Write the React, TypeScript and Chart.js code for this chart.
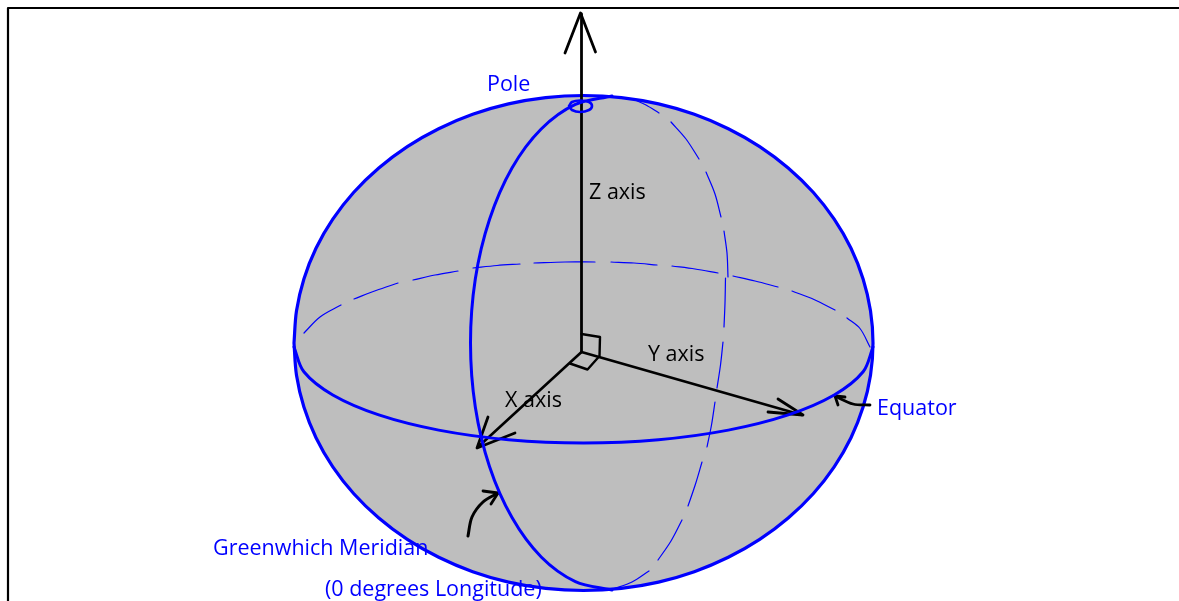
import React, { useEffect, useRef } from "react";
import { Chart, registerables } from "chart.js";

Chart.register(...registerables);

type N = number | null;

const BLUE = "#0000ff";
const BLACK = "#000000";
const GREY = "#bebebe";

const frameX: N[] = [8, 8, 1179];
const frameY: N[] = [601, 8, 8];

const sphereX: N[] = [294, 296.5, 303.9, 316, 332.8, 353.8, 378.8, 407.3, 438.7, 472.7, 508.5, 545.7, 583.5, 621.3, 658.5, 694.3, 728.3, 759.7, 788.2, 813.2, 834.2, 851, 863.1, 870.5, 873, 870.5, 863.1, 851, 834.2, 813.2, 788.2, 759.7, 728.3, 694.3, 658.5, 621.3, 583.5, 545.7, 508.5, 472.7, 438.7, 407.3, 378.8, 353.8, 332.8, 316, 303.9, 296.5, 294];
const sphereY: N[] = [343, 310.7, 278.9, 248.3, 219.2, 192.3, 168, 146.6, 128.7, 114.3, 103.9, 97.6, 95.5, 97.6, 103.9, 114.3, 128.7, 146.6, 168, 192.3, 219.2, 248.3, 278.9, 310.7, 343, 375.3, 407.1, 437.7, 466.8, 493.7, 518, 539.4, 557.3, 571.7, 582.1, 588.4, 590.5, 588.4, 582.1, 571.7, 557.3, 539.4, 518, 493.7, 466.8, 437.7, 407.1, 375.3, 343];

const equatorFrontX: N[] = [294, 303.9, 332.8, 378.8, 438.7, 508.5, 583.5, 658.5, 728.3, 788.2, 834.2, 863.1, 873];
const equatorFrontY: N[] = [347, 371.8, 395, 414.9, 430.1, 439.7, 443, 439.7, 430.1, 414.9, 395, 371.8, 347];

const equatorBackX: N[] = [304, 320, 341, null, 354, 376, 398, null, 413, 435, 458, null, 473, 497, 520, null, 534, 565, 595, null, 611, 634, 657, null, 672, 695, 718, null, 733, 755, 778, null, 792, 814, 835, null, 847, 860, 870];
const equatorBackY: N[] = [333, 317, 305, null, 299, 290.5, 283, null, 280, 275, 271, null, 268, 265.5, 264, null, 263, 262, 262, null, 262, 263, 265, null, 266, 269, 273, null, 276, 281, 287, null, 291, 299.5, 310, null, 318, 328.5, 347];

const meridianFrontX: N[] = [612, 575.4, 541.2, 512, 489.5, 475.3, 470.5, 475.3, 489.5, 512, 541.2, 575.4, 612];
const meridianFrontY: N[] = [96, 104.4, 129, 168, 219.5, 279, 343, 407, 466.5, 517.6, 557, 581.6, 590];

const meridianBackX: N[] = [633, 646, 659, null, 671, 686, 699, null, 706, 715, 721, null, 724, 727, 728, null, 725.5, 725, 724, null, 723, 720.5, 717, null, 715, 711.5, 707, null, 702, 695.5, 688, null, 682, 671, 658, null, 649, 632, 613];
const meridianBackY: N[] = [99, 105, 113, null, 122, 139, 159, null, 172, 194, 217, null, 231, 253, 277, null, 278, 303, 327, null, 342, 365, 388, null, 402, 425, 447, null, 462, 484, 506, null, 520, 541, 560, null, 571, 582, 589];

const poleX: N[] = [569, 572, 580, 589, 592, 589, 580, 572, 569];
const poleY: N[] = [106, 102, 100.5, 102, 106, 110, 112, 110, 106];

const zAxisX: N[] = [581.5, 581.5];
const zAxisY: N[] = [352, 14];
const zHeadX: N[] = [565, 580.5, 595.5];
const zHeadY: N[] = [53, 13, 52];

const xAxisX: N[] = [581.5, 478];
const xAxisY: N[] = [352, 447];
const xHeadX: N[] = [488, 477, 515];
const xHeadY: N[] = [417, 448, 433];

const yAxisX: N[] = [581.5, 802];
const yAxisY: N[] = [352, 415];
const yHeadX: N[] = [778, 803, 768];
const yHeadY: N[] = [399, 415, 412];

const rightAngleX: N[] = [581.5, 600, 599.5, 587.5, 570];
const rightAngleY: N[] = [334, 337, 356, 369.5, 363.5];

const greenwichArrowX: N[] = [468, 472, 483, 498];
const greenwichArrowY: N[] = [536, 517, 502, 493];
const greenwichHeadX: N[] = [483, 498, 491];
const greenwichHeadY: N[] = [491, 493, 504];

const equatorArrowX: N[] = [870, 853, 835];
const equatorArrowY: N[] = [405, 404, 396];
const equatorHeadX: N[] = [845, 835, 838];
const equatorHeadY: N[] = [397, 396, 405];

const labelTexts = ["Pole", "Z axis", "Y axis", "X axis", "Equator", "Greenwhich Meridian", "(0 degrees Longitude)"];
const labelX = [487, 589, 648, 505, 877, 213, 325];
const labelY = [91, 199, 361, 407, 415, 555, 596];
const labelColors = [BLUE, BLACK, BLACK, BLACK, BLUE, BLUE, BLUE];

const zip = (xs: N[], ys: N[]) => xs.map((x, i) => ({ x, y: ys[i] }));

const line = (xs: N[], ys: N[], color: string, width: number, tension: number, extra: object = {}) => ({
  data: zip(xs, ys),
  showLine: true,
  borderColor: color,
  borderWidth: width,
  tension,
  pointRadius: 0,
  spanGaps: false,
  fill: false,
  borderCapStyle: "round" as const,
  borderJoinStyle: "round" as const,
  ...extra,
});

const textPlugin = {
  id: "sphereLabels",
  afterDatasetsDraw(chart: any) {
    const { ctx, scales } = chart;
    ctx.save();
    ctx.font = '21.5px "Open Sans"';
    ctx.textBaseline = "alphabetic";
    ctx.textAlign = "left";
    labelTexts.forEach((t, i) => {
      ctx.fillStyle = labelColors[i];
      ctx.fillText(t, scales.x.getPixelForValue(labelX[i]), scales.y.getPixelForValue(labelY[i]));
    });
    ctx.restore();
  },
};

export default function App() {
  const ref = useRef<HTMLCanvasElement>(null);
  useEffect(() => {
    if (!ref.current) return;
    const chart = new Chart(ref.current, {
      type: "scatter",
      data: {
        datasets: [
          line(poleX, poleY, BLUE, 2.6, 0.33),
          line(equatorFrontX, equatorFrontY, BLUE, 3, 0.33),
          line(meridianFrontX, meridianFrontY, BLUE, 3, 0.33),
          line(zHeadX, zHeadY, BLACK, 2.8, 0),
          line(zAxisX, zAxisY, BLACK, 2.8, 0),
          line(xHeadX, xHeadY, BLACK, 2.8, 0),
          line(xAxisX, xAxisY, BLACK, 2.6, 0),
          line(yHeadX, yHeadY, BLACK, 2.8, 0),
          line(yAxisX, yAxisY, BLACK, 2.6, 0),
          line(rightAngleX, rightAngleY, BLACK, 2.4, 0),
          line(greenwichArrowX, greenwichArrowY, BLACK, 3, 0.33),
          line(greenwichHeadX, greenwichHeadY, BLACK, 2.8, 0),
          line(equatorArrowX, equatorArrowY, BLACK, 2.8, 0.33),
          line(equatorHeadX, equatorHeadY, BLACK, 2.8, 0),
          line(equatorBackX, equatorBackY, BLUE, 1.2, 0.33),
          line(meridianBackX, meridianBackY, BLUE, 1.2, 0.33),
          line(sphereX, sphereY, BLUE, 3.2, 0.33, { fill: "shape", backgroundColor: GREY }),
          line(frameX, frameY, BLACK, 2.2, 0),
        ],
      },
      options: {
        animation: false,
        responsive: false,
        layout: { padding: 0 },
        plugins: { legend: { display: false }, tooltip: { enabled: false } },
        scales: {
          x: { type: "linear", min: 0, max: 1179, display: false },
          y: { type: "linear", min: 0, max: 601, reverse: true, display: false },
        },
      },
      plugins: [textPlugin],
    } as any);
    return () => chart.destroy();
  }, []);
  return (
    <canvas
      ref={ref}
      width={1179}
      height={601}
      style={{ position: "fixed", left: 0, top: 0, display: "block", width: 1179, height: 601, background: "#fff" }}
    />
  );
}
